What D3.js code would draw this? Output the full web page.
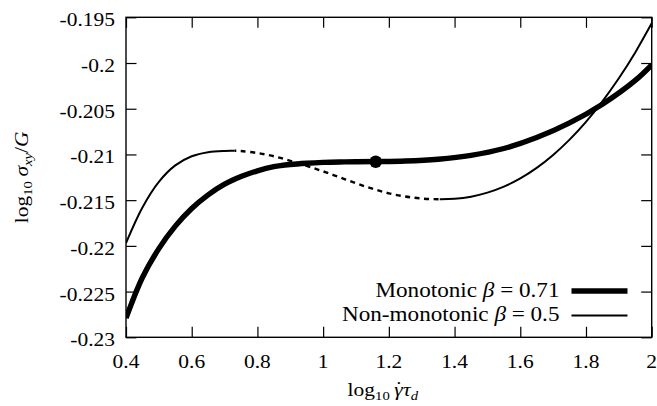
<!DOCTYPE html>
<html>
<head>
<meta charset="utf-8">
<script src="https://cdn.jsdelivr.net/npm/d3@7"></script>
<style>
  html, body { margin: 0; padding: 0; background: #fff; }
  svg { display: block; }
  text { font-family: "Liberation Serif", "Times New Roman", serif; fill: #000; }
</style>
</head>
<body>
<svg id="chart" width="657" height="406"></svg>
<script>
// ---- data ----
const xTicks = [0.4, 0.6, 0.8, 1, 1.2, 1.4, 1.6, 1.8, 2];
const xTickLabels = ["0.4", "0.6", "0.8", "1", "1.2", "1.4", "1.6", "1.8", "2"];
const yTicks = [-0.23, -0.225, -0.22, -0.215, -0.21, -0.205, -0.2, -0.195];
const yTickLabels = ["-0.23", "-0.225", "-0.22", "-0.215", "-0.21", "-0.205", "-0.2", "-0.195"];

// Monotonic beta = 0.71 (thick)
const monoX = [0.4, 0.45, 0.5, 0.55, 0.6, 0.65, 0.7, 0.75, 0.8, 0.85, 0.9, 0.95, 1.0, 1.05, 1.1, 1.16, 1.25, 1.35, 1.45, 1.55, 1.65, 1.75, 1.85, 1.95, 2.0];
const monoY = [-0.2279, -0.22346, -0.2203, -0.21784, -0.21591, -0.21442, -0.21325, -0.21242, -0.21179, -0.21134, -0.2111, -0.21096, -0.21087, -0.21082, -0.2108, -0.21078, -0.21072, -0.21052, -0.2101, -0.20935, -0.20815, -0.20655, -0.2045, -0.2019, -0.2002];

// Non-monotonic beta = 0.5 (thin); unstable branch between the extrema is dashed
const nonX = [0.4, 0.45, 0.5, 0.55, 0.6, 0.65, 0.7, 0.73, 0.75, 0.8, 0.85, 0.9, 0.95, 1.0, 1.05, 1.1, 1.15, 1.2, 1.25, 1.3, 1.355, 1.4, 1.45, 1.5, 1.55, 1.6, 1.65, 1.7, 1.75, 1.8, 1.85, 1.9, 1.95, 2.0];
const nonY = [-0.2197, -0.2158, -0.2130, -0.2112, -0.2102, -0.20975, -0.20961, -0.2096, -0.20963, -0.20985, -0.2102, -0.2107, -0.21125, -0.21185, -0.2125, -0.21315, -0.21375, -0.21425, -0.2146, -0.21482, -0.2149, -0.21485, -0.21462, -0.21418, -0.21352, -0.21262, -0.21147, -0.21006, -0.20838, -0.20643, -0.20419, -0.20167, -0.19884, -0.19566];
const unstableRange = [0.73, 1.355];

// critical point on the monotonic curve
const dotX = [1.16];
const dotY = [-0.2108];

const legendNames = ["Monotonic", "Non-monotonic"];
const legendBetas = ["0.71", "0.5"];

// ---- layout ----
const W = 657, H = 406;
const margin = { left: 126, right: 5.3, top: 17.3, bottom: 68.7 };
const svg = d3.select("#chart");
const x = d3.scaleLinear().domain([0.4, 2]).range([margin.left, W - margin.right]);
const y = d3.scaleLinear().domain([-0.23, -0.195]).range([H - margin.bottom, margin.top]);
const x0 = x.range()[0], x1 = x.range()[1], y0 = y.range()[0], y1 = y.range()[1];
const FS = 19, SX = 1.13;

function stext(parent, px, py, anchor, size, rot) {
  return parent.append("text")
    .attr("transform", `translate(${px},${py})` + (rot ? ` rotate(${rot})` : "") + ` scale(${SX},1)`)
    .attr("text-anchor", anchor).attr("font-size", size);
}

// clip paths
const defs = svg.append("defs");
defs.append("clipPath").attr("id", "plotclip").append("rect")
  .attr("x", x0).attr("y", y1).attr("width", x1 - x0).attr("height", y0 - y1);
defs.append("clipPath").attr("id", "stableclip").selectAll("rect")
  .data([[0.4, unstableRange[0]], [unstableRange[1], 2]]).join("rect")
  .attr("x", d => x(d[0])).attr("y", 0)
  .attr("width", d => x(d[1]) - x(d[0])).attr("height", H);
defs.append("clipPath").attr("id", "unstableclip").append("rect")
  .attr("x", x(unstableRange[0])).attr("y", 0)
  .attr("width", x(unstableRange[1]) - x(unstableRange[0])).attr("height", H);

// ticks (inward, all four sides) via axes
const tl = 10.5;
svg.append("g").attr("transform", `translate(0,${y0})`)
  .call(d3.axisTop(x).tickValues(xTicks).tickSize(tl).tickFormat(""))
  .call(g => g.select(".domain").remove());
svg.append("g").attr("transform", `translate(0,${y1})`)
  .call(d3.axisBottom(x).tickValues(xTicks).tickSize(tl).tickFormat(""))
  .call(g => g.select(".domain").remove());
svg.append("g").attr("transform", `translate(${x0},0)`)
  .call(d3.axisRight(y).tickValues(yTicks).tickSize(tl).tickFormat(""))
  .call(g => g.select(".domain").remove());
svg.append("g").attr("transform", `translate(${x1},0)`)
  .call(d3.axisLeft(y).tickValues(yTicks).tickSize(tl).tickFormat(""))
  .call(g => g.select(".domain").remove());
svg.selectAll(".tick line").attr("stroke", "#000").attr("stroke-width", 1.2);

// tick labels
const xl = svg.append("g");
xTicks.forEach((d, i) => stext(xl, x(d), y0 + 31, "middle", FS).text(xTickLabels[i]));
const yl = svg.append("g");
yTicks.forEach((d, i) => stext(yl, x0 - 11, y(d) + 9, "end", FS).text(yTickLabels[i]));

// curves
const line = d3.line().curve(d3.curveCatmullRom.alpha(0.5));
const plot = svg.append("g").attr("clip-path", "url(#plotclip)");
const nonPts = nonX.map((v, i) => [x(v), y(nonY[i])]);
const monoPts = monoX.map((v, i) => [x(v), y(monoY[i])]);

plot.append("g").attr("clip-path", "url(#stableclip)").append("path")
  .attr("d", line(nonPts)).attr("fill", "none").attr("stroke", "#000").attr("stroke-width", 2);
plot.append("g").attr("clip-path", "url(#unstableclip)").append("path")
  .attr("d", line(nonPts)).attr("fill", "none").attr("stroke", "#000")
  .attr("stroke-width", 2.4).attr("stroke-dasharray", "5,4.5");
plot.append("path")
  .attr("d", line(monoPts)).attr("fill", "none").attr("stroke", "#000")
  .attr("stroke-width", 5.4).attr("stroke-linejoin", "round");
plot.selectAll("circle").data(dotX).join("circle")
  .attr("cx", d => x(d)).attr("cy", (d, i) => y(dotY[i])).attr("r", 6.2).attr("fill", "#000");

// frame
svg.append("rect").attr("x", x0).attr("y", y1).attr("width", x1 - x0).attr("height", y0 - y1)
  .attr("fill", "none").attr("stroke", "#000").attr("stroke-width", 1.4);

// legend
const legY = [297, 320.5];
const legLineY = [291, 315.5];
const legW = [5.4, 2];
legendNames.forEach((name, i) => {
  const t = stext(svg, 559.5, legY[i], "end", 20.5);
  t.append("tspan").text(name + " ");
  t.append("tspan").attr("font-style", "italic").text("β");
  t.append("tspan").text(" = " + legendBetas[i]);
  svg.append("line").attr("x1", 571.5).attr("x2", 627.5)
    .attr("y1", legLineY[i]).attr("y2", legLineY[i])
    .attr("stroke", "#000").attr("stroke-width", legW[i]);
});

// axis titles
const xt = stext(svg, (x0 + x1) / 2 - 6, 396, "middle", FS);
xt.append("tspan").text("log");
xt.append("tspan").attr("font-size", 13).attr("dy", 4).text("10");
xt.append("tspan").attr("dy", -4).attr("dx", 4).attr("font-style", "italic").text("γ");
xt.append("tspan").attr("dx", -6.6).attr("dy", -1).text("˙");
xt.append("tspan").attr("dx", 0.6).attr("dy", 1).attr("font-style", "italic").text("τ");
xt.append("tspan").attr("font-size", 13).attr("dy", 4).attr("font-style", "italic").text("d");

const yt = stext(svg, 27.5, (y0 + y1) / 2, "middle", FS, -90);
yt.append("tspan").text("log");
yt.append("tspan").attr("font-size", 13).attr("dy", 4).text("10");
yt.append("tspan").attr("dy", -4).attr("dx", 4).attr("font-style", "italic").text("σ");
yt.append("tspan").attr("font-size", 13).attr("dy", 4).attr("font-style", "italic").text("xy");
yt.append("tspan").attr("dy", -4).text("/");
yt.append("tspan").attr("font-style", "italic").text("G");
</script>
</body>
</html>
